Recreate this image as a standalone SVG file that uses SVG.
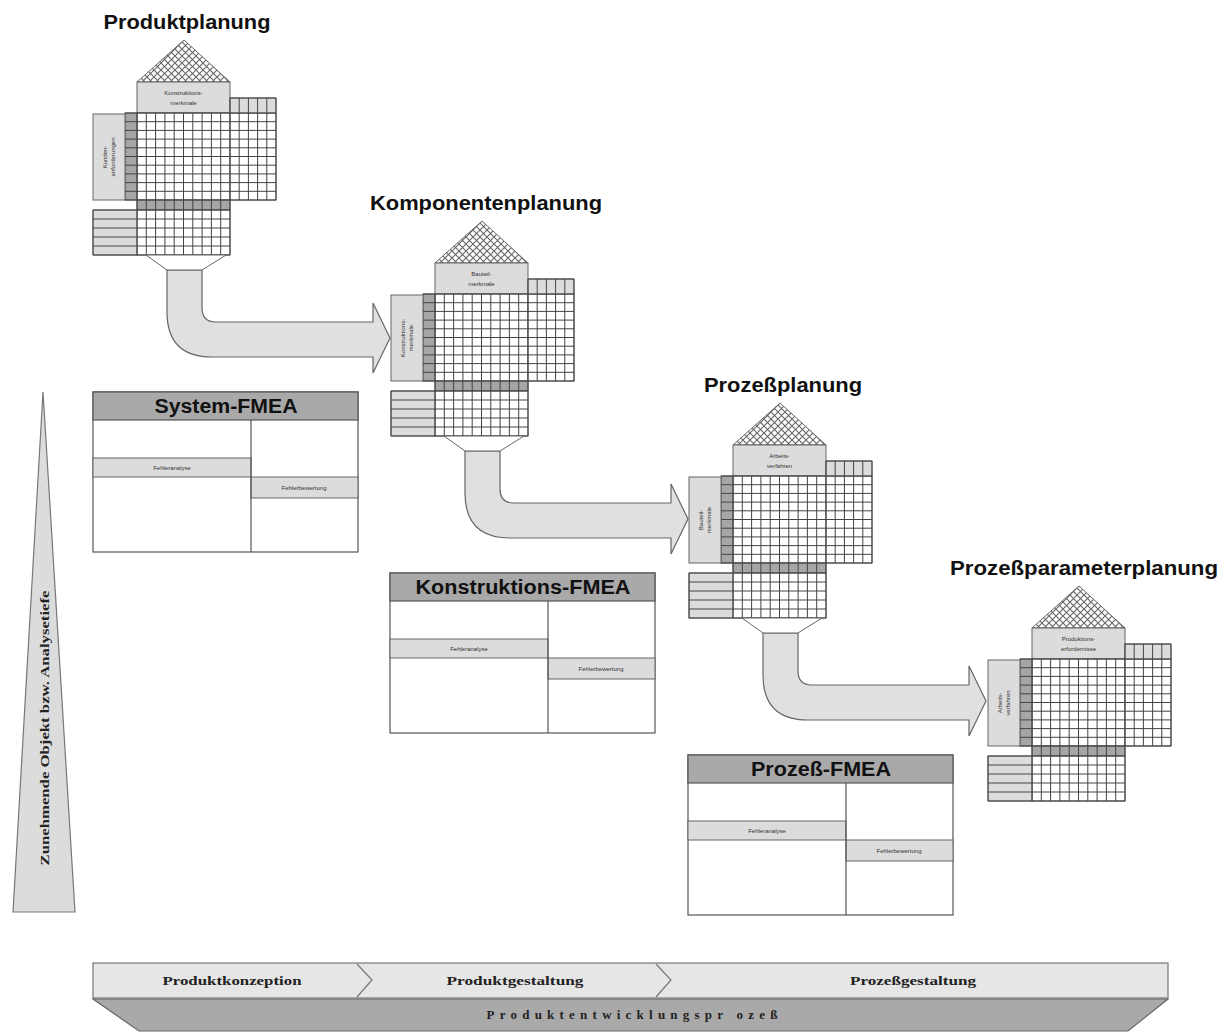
<svg xmlns="http://www.w3.org/2000/svg" xmlns:xlink="http://www.w3.org/1999/xlink" width="1226" height="1033" viewBox="0 0 1226 1033">
<style>
.title{font-family:"Liberation Sans",Arial,sans-serif;font-weight:bold;font-size:21px;fill:#111;text-anchor:middle}
.ftitle{font-family:"Liberation Sans",Arial,sans-serif;font-weight:bold;font-size:20px;fill:#111;text-anchor:middle}
.tiny{font-family:"Liberation Sans",Arial,sans-serif;font-size:6px;fill:#333;text-anchor:middle}
.ser{font-family:"Liberation Serif","Times New Roman",serif;font-weight:bold;font-size:13px;fill:#222;text-anchor:middle}
.lg{fill:#dcdcdc;stroke:#666;stroke-width:1}
.dk{fill:#a6a6a6;stroke:#555;stroke-width:1}
.wh{fill:#fff;stroke:#555;stroke-width:1}
.gl{fill:none;stroke:#444;stroke-width:1}
.arrow{fill:#e0e0e0;stroke:#666;stroke-width:1.2}
.fm{fill:#fff;stroke:#555;stroke-width:1.2}
.fmh{fill:#a9a9a9;stroke:#555;stroke-width:1.2}
</style>
<defs>
<pattern id="lattice" patternUnits="userSpaceOnUse" width="7" height="7">
<rect width="7" height="7" fill="#fff"/>
<path d="M0,0L7,7M7,0L0,7" stroke="#666" stroke-width="1.1"/>
</pattern>
<g id="house">
<polygon points="137,82 184,40 230,82" fill="url(#lattice)" stroke="#666"/>
<rect class="lg" x="137" y="82" width="93" height="31"/>
<rect class="wh" x="137" y="113" width="93" height="87"/>
<rect class="wh" x="230" y="113" width="46" height="87"/>
<rect class="lg" x="230" y="98" width="46" height="15"/>
<rect class="dk" x="125" y="113" width="12" height="87"/>
<rect class="dk" x="137" y="200" width="93" height="10"/>
<rect class="wh" x="137" y="210" width="93" height="45"/>
<rect class="lg" x="93" y="114" width="32" height="86"/>
<rect class="lg" x="93" y="210" width="44" height="45"/>
<path class="gl" d="M137,113V255M146.3,113V255M155.6,113V255M164.9,113V255M174.2,113V255M183.5,113V255M192.8,113V255M202.1,113V255M211.4,113V255M220.7,113V255M230,98V255M239.2,98V200M248.4,98V200M257.6,98V200M266.8,98V200M276,98V200M230,98H276M125,113H276M125,121.7H276M125,130.4H276M125,139.1H276M125,147.8H276M125,156.5H276M125,165.2H276M125,173.9H276M125,182.6H276M125,191.3H276M125,200H276M93,210H230M93,219H230M93,228H230M93,237H230M93,246H230M93,255H230M93,210V255"/>
</g>
<polygon id="funnel" points="146,255 226,255 202,270 167,270" fill="#fff" stroke="#666"/>
<path id="arr" d="M167,270L202,270L202,308Q202,322 216,322L373,322L373,303L390,338L373,373L373,357L212,357Q167,357 167,312Z"/>
<g id="fmea">
<rect class="fm" x="93" y="392" width="265" height="160"/>
<rect class="fmh" x="93" y="392" width="265" height="28"/>
<rect class="lg" x="93" y="458" width="158" height="19"/>
<rect class="lg" x="251" y="477" width="107" height="21"/>
<line x1="251" y1="420" x2="251" y2="552" stroke="#555" stroke-width="1.2"/>
</g>
</defs>

<g id="connectors">
<use xlink:href="#arr" href="#arr" class="arrow"/>
<use xlink:href="#arr" href="#arr" class="arrow" transform="translate(298,181)"/>
<use xlink:href="#arr" href="#arr" class="arrow" transform="translate(596,363)"/>
</g>

<g id="produktplanung">
<use xlink:href="#house" href="#house"/>
<use xlink:href="#funnel" href="#funnel"/>
<text class="title" x="187" y="29" textLength="167" lengthAdjust="spacingAndGlyphs">Produktplanung</text>
<text class="tiny" x="183.5" y="95">Konstruktions-</text>
<text class="tiny" x="183.5" y="105">merkmale</text>
<text class="tiny" transform="translate(109,157) rotate(-90)"><tspan x="0" y="-2">Kunden-</tspan><tspan x="0" y="6">anforderungen</tspan></text>
</g>

<g id="komponentenplanung" transform="translate(298,181)">
<use xlink:href="#house" href="#house"/>
<use xlink:href="#funnel" href="#funnel"/>
<text class="title" x="188" y="29" textLength="232" lengthAdjust="spacingAndGlyphs">Komponentenplanung</text>
<text class="tiny" x="183.5" y="95">Bauteil-</text>
<text class="tiny" x="183.5" y="105">merkmale</text>
<text class="tiny" transform="translate(109,157) rotate(-90)"><tspan x="0" y="-2">Konstruktions-</tspan><tspan x="0" y="6">merkmale</tspan></text>
</g>

<g id="prozessplanung" transform="translate(596,363)">
<use xlink:href="#house" href="#house"/>
<use xlink:href="#funnel" href="#funnel"/>
<text class="title" x="187" y="29" textLength="158" lengthAdjust="spacingAndGlyphs">Prozeßplanung</text>
<text class="tiny" x="183.5" y="95">Arbeits-</text>
<text class="tiny" x="183.5" y="105">verfahren</text>
<text class="tiny" transform="translate(109,157) rotate(-90)"><tspan x="0" y="-2">Bauteil-</tspan><tspan x="0" y="6">merkmale</tspan></text>
</g>

<g id="prozessparameterplanung" transform="translate(895,546)">
<use xlink:href="#house" href="#house"/>
<text class="title" x="189" y="29" textLength="268" lengthAdjust="spacingAndGlyphs">Prozeßparameterplanung</text>
<text class="tiny" x="183.5" y="95">Produktions-</text>
<text class="tiny" x="183.5" y="105">erfordernisse</text>
<text class="tiny" transform="translate(109,157) rotate(-90)"><tspan x="0" y="-2">Arbeits-</tspan><tspan x="0" y="6">verfahren</tspan></text>
</g>

<g id="system-fmea">
<use xlink:href="#fmea" href="#fmea"/>
<text class="ftitle" x="226" y="413" textLength="143" lengthAdjust="spacingAndGlyphs">System-FMEA</text>
<text class="tiny" x="172" y="470">Fehleranalyse</text>
<text class="tiny" x="304" y="490">Fehlerbewertung</text>
</g>

<g id="konstruktions-fmea" transform="translate(297,181)">
<use xlink:href="#fmea" href="#fmea"/>
<text class="ftitle" x="226" y="413" textLength="215" lengthAdjust="spacingAndGlyphs">Konstruktions-FMEA</text>
<text class="tiny" x="172" y="470">Fehleranalyse</text>
<text class="tiny" x="304" y="490">Fehlerbewertung</text>
</g>

<g id="prozess-fmea" transform="translate(595,363)">
<use xlink:href="#fmea" href="#fmea"/>
<text class="ftitle" x="226" y="413" textLength="140" lengthAdjust="spacingAndGlyphs">Prozeß-FMEA</text>
<text class="tiny" x="172" y="470">Fehleranalyse</text>
<text class="tiny" x="304" y="490">Fehlerbewertung</text>
</g>

<g id="analysetiefe">
<polygon points="43,392 75,912 13,912" fill="#dcdcdc" stroke="#777" stroke-width="1.2"/>
<text class="ser" transform="translate(49,728) rotate(-90)" textLength="275" lengthAdjust="spacingAndGlyphs">Zunehmende Objekt bzw. Analysetiefe</text>
</g>

<g id="phasen">
<rect x="93" y="963" width="1075" height="35" fill="#e6e6e6" stroke="#777" stroke-width="1.2"/>
<polyline points="357,964 372,980 357,997" fill="none" stroke="#777" stroke-width="1.2"/>
<polyline points="656,964 671,980 656,997" fill="none" stroke="#777" stroke-width="1.2"/>
<text class="ser" x="232" y="985" textLength="139" lengthAdjust="spacingAndGlyphs">Produktkonzeption</text>
<text class="ser" x="515" y="985" textLength="137" lengthAdjust="spacingAndGlyphs">Produktgestaltung</text>
<text class="ser" x="913" y="985" textLength="126" lengthAdjust="spacingAndGlyphs">Prozeßgestaltung</text>
</g>

<g id="produktentwicklungsprozess">
<polygon points="93,999 1168,999 1128,1031 139,1031" fill="#a9a9a9" stroke="#666" stroke-width="1.2"/>
<text class="ser" x="632" y="1019" textLength="291" lengthAdjust="spacing">Produktentwicklungspr ozeß</text>
</g>
</svg>
